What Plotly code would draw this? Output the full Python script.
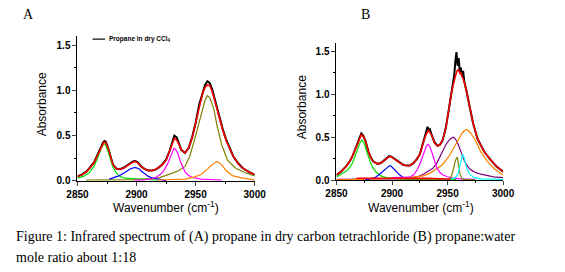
import plotly.graph_objects as go

# ---------------- Panel A: propane in dry CCl4 ----------------
A_fit_x = [2850,2854,2858,2861,2864,2867,2870,2872,2873,2874,2876,2878,2880,2883,2886,2889,2892,2895,2897,2899,
           2901,2904,2907,2910,2913,2916,2919,2922,2925,2928,2930,2932,2934,2936,2938,2941,2944,2947,2950,2953,
           2956,2958,2960,2962,2964,2967,2970,2973,2976,2979,2982,2986,2990,2995,3000]
A_fit_y = [0.047,0.07,0.105,0.15,0.20,0.28,0.37,0.42,0.43,0.42,0.36,0.26,0.18,0.135,0.13,0.14,0.165,0.195,0.21,0.215,
           0.20,0.16,0.13,0.115,0.115,0.125,0.15,0.18,0.23,0.32,0.40,0.47,0.45,0.40,0.34,0.31,0.36,0.47,0.63,0.82,
           0.97,1.03,1.06,1.05,0.99,0.85,0.69,0.56,0.44,0.35,0.27,0.19,0.14,0.10,0.07]
A_exp_y = [0.05,0.072,0.108,0.155,0.205,0.29,0.38,0.43,0.44,0.43,0.36,0.26,0.18,0.135,0.13,0.145,0.17,0.20,0.215,0.22,
           0.205,0.16,0.13,0.115,0.115,0.125,0.15,0.185,0.235,0.33,0.42,0.50,0.48,0.41,0.34,0.31,0.36,0.48,0.64,0.84,
           0.99,1.06,1.10,1.08,1.01,0.86,0.70,0.57,0.45,0.36,0.27,0.195,0.14,0.10,0.07]

A_green_x = [2850,2855,2860,2864,2867,2869,2871,2872.5,2874,2876,2878,2880,2883,2886,2890,2900,2910,2918]
A_green_y = [0.03,0.05,0.09,0.16,0.25,0.33,0.39,0.41,0.39,0.32,0.23,0.15,0.085,0.05,0.03,0.02,0.015,0.01]
A_blue_x = [2877,2881,2885,2889,2892,2895,2898.7,2902,2904,2907,2910,2914,2919,2925]
A_blue_y = [0.02,0.035,0.055,0.085,0.11,0.135,0.15,0.135,0.11,0.08,0.05,0.03,0.015,0.005]
A_magenta_x = [2898,2905,2912,2916,2920,2923,2926,2928,2930,2931.7,2933,2935,2937,2939,2941,2944,2948,2955,2962,2972]
A_magenta_y = [0.01,0.01,0.02,0.035,0.07,0.11,0.18,0.25,0.32,0.36,0.35,0.30,0.22,0.15,0.10,0.06,0.035,0.02,0.015,0.01]
A_olive_x = [2857,2870,2885,2900,2912,2919.5,2927,2935,2941,2945,2949,2952,2955,2958,2960,2962,2965.5,2968,2972,2977,2984,2992,3000]
A_olive_y = [0.01,0.01,0.01,0.015,0.025,0.036,0.07,0.11,0.16,0.27,0.45,0.60,0.75,0.89,0.94,0.92,0.79,0.62,0.40,0.23,0.14,0.09,0.055]
A_orange_x = [2918,2930,2941,2948,2954.6,2960,2964,2968.2,2972,2976,2981.7,2990,3000]
A_orange_y = [0.01,0.012,0.02,0.04,0.07,0.13,0.18,0.215,0.18,0.11,0.055,0.03,0.012]

# ---------------- Panel B: propane:water 1:18 ----------------
B_fit_x = [2850,2854,2858.6,2862,2864.4,2866.5,2868.7,2871,2872.4,2874,2876,2878.8,2881,2883,2887,2890,2893,2895,2897.4,2899.5,
           2902,2905,2907.5,2910,2913,2916,2919,2922,2925,2928,2930,2932.5,2934,2935.5,2938.3,2941,2943,2945.4,2948.3,2951.2,
           2954,2956.9,2958.5,2959.8,2961,2962,2963,2965,2967,2969.8,2972.8,2977,2983,2988.5,2994,3000]
B_fit_y = [0.06,0.10,0.16,0.22,0.28,0.34,0.41,0.49,0.53,0.51,0.46,0.33,0.26,0.22,0.19,0.20,0.23,0.255,0.275,0.27,
           0.245,0.22,0.20,0.18,0.17,0.17,0.195,0.24,0.30,0.43,0.51,0.58,0.56,0.53,0.43,0.40,0.41,0.46,0.60,0.83,
           1.05,1.20,1.27,1.29,1.24,1.25,1.22,1.14,1.04,0.86,0.67,0.48,0.33,0.24,0.16,0.10]
B_exp_x = [2850,2854,2858.6,2862,2864.4,2866.5,2868.7,2871,2872.4,2874,2876,2878.8,2881,2883,2887,2890,2893,2895,2897.4,2899.5,
           2902,2905,2907.5,2910,2913,2916,2919,2922,2925,2928,2930,2931,2932,2933,2934,2935,2936,2938.3,2941,2943,
           2945.4,2948.3,2951.2,2953,2954,2955,2956,2957,2958,2959,2960,2961,2962,2963,2964,2965,2966,2967,2969.8,2972.8,
           2977,2983,2988.5,2994,3000]
B_exp_y = [0.06,0.10,0.16,0.22,0.28,0.34,0.42,0.50,0.545,0.52,0.46,0.33,0.26,0.22,0.19,0.20,0.235,0.26,0.28,0.275,
           0.25,0.22,0.20,0.18,0.17,0.17,0.195,0.24,0.30,0.43,0.53,0.57,0.62,0.58,0.60,0.55,0.52,0.44,0.40,0.41,
           0.46,0.60,0.83,0.97,1.08,1.13,1.22,1.38,1.49,1.33,1.42,1.26,1.31,1.20,1.27,1.15,1.10,1.04,0.86,0.67,
           0.48,0.33,0.24,0.16,0.10]

B_green_x = [2850,2854,2858.6,2862,2864.4,2866.5,2868.7,2871,2873,2875,2877,2879,2881,2883,2886,2890,2895,2905,2920,2940,2958]
B_green_y = [0.037,0.065,0.105,0.15,0.20,0.27,0.35,0.43,0.466,0.43,0.34,0.25,0.19,0.14,0.09,0.05,0.03,0.02,0.015,0.012,0.01]
B_blue_x = [2876,2881,2884.5,2888,2890.3,2892.5,2894.6,2896,2897.8,2899.5,2901.5,2904.6,2907,2909,2912,2915,2922]
B_blue_y = [0.005,0.015,0.03,0.06,0.086,0.11,0.14,0.16,0.17,0.16,0.13,0.086,0.06,0.04,0.02,0.01,0.005]
B_magenta_x = [2900,2912,2916,2920,2923,2926,2929,2931,2932.5,2934,2936,2938,2940,2943,2946,2950,2955,2962,2975]
B_magenta_y = [0.03,0.03,0.035,0.07,0.13,0.22,0.33,0.40,0.416,0.39,0.32,0.23,0.155,0.09,0.06,0.04,0.025,0.015,0.01]
B_purple_x = [2850,2880,2905,2915,2919.6,2924,2928.2,2932,2936.8,2940,2942.6,2945.5,2948.3,2951,2953.5,2955.5,2957.5,2959.8,
              2962.7,2965,2967,2970,2972.8,2976,2980,2986,2991.4,3000]
B_purple_y = [0.01,0.01,0.015,0.02,0.03,0.045,0.07,0.10,0.14,0.19,0.26,0.33,0.41,0.46,0.49,0.50,0.47,0.41,
              0.30,0.23,0.18,0.13,0.106,0.085,0.07,0.05,0.04,0.03]
B_orange_x = [2850,2870,2890,2905,2915,2922,2928.2,2934,2939.7,2945.4,2951.2,2954,2956.9,2960,2962.7,2965,2967,2969,2971.3,
              2975.6,2979.9,2985.7,2992.8,3000]
B_orange_y = [0.005,0.008,0.012,0.02,0.03,0.04,0.05,0.08,0.125,0.18,0.276,0.34,0.41,0.48,0.54,0.575,0.59,0.575,0.54,
              0.45,0.33,0.22,0.125,0.06]
B_olive_x = [2905,2920,2935,2945,2951.2,2953,2954,2955.5,2957,2958.8,2959.8,2961.2,2962.7,2965,2975]
B_olive_y = [0.005,0.008,0.01,0.01,0.012,0.04,0.07,0.14,0.23,0.27,0.18,0.07,0.02,0.01,0.005]
B_cyan_x = [2945,2952,2956.9,2958.5,2959.8,2961.2,2962.4,2963.5,2964.6,2966,2967.5,2969.8,2974,2980,2990,3000]
B_cyan_y = [0.005,0.01,0.03,0.055,0.09,0.18,0.26,0.30,0.28,0.20,0.13,0.07,0.03,0.015,0.01,0.01]
B_redbase_x = [2868,2933,2953]
B_redbase_y = [0.023,0.023,0.01]

x_ticks = [2850, 2900, 2950, 3000]
y_ticks = [0.0, 0.5, 1.0, 1.5]
legend_label = "Propane in dry CCl<sub>4</sub>"
caption1 = "Figure 1: Infrared spectrum of (A) propane in dry carbon tetrachloride (B) propane:water"
caption2 = "mole ratio about 1:18"

W, H = 565, 272
def px(x): return x / W
def py(y): return (H - y) / H

fig = go.Figure()

def add(x, y, color, width, xa, ya):
    fig.add_trace(go.Scatter(x=x, y=y, mode="lines", line=dict(color=color, width=width),
                             xaxis=xa, yaxis=ya, showlegend=False, hoverinfo="skip"))

GREEN = "#00e000"; BLUE = "#0000ff"; MAG = "#ff00ff"; OLIVE = "#808000"
ORANGE = "#ff8000"; PURPLE = "#800080"; CYAN = "#00ffff"; RED = "#ff0000"

# Panel A
add(A_fit_x, A_exp_y, "black", 2, "x", "y")
add(A_olive_x, A_olive_y, OLIVE, 1.2, "x", "y")
add(A_green_x, A_green_y, GREEN, 1.2, "x", "y")
add(A_blue_x, A_blue_y, BLUE, 1.2, "x", "y")
add(A_magenta_x, A_magenta_y, MAG, 1.2, "x", "y")
add(A_orange_x, A_orange_y, ORANGE, 1.2, "x", "y")
add(A_fit_x, A_fit_y, RED, 1.5, "x", "y")

# Panel B
add(B_exp_x, B_exp_y, "black", 2, "x2", "y2")
add(B_purple_x, B_purple_y, PURPLE, 1.2, "x2", "y2")
add(B_orange_x, B_orange_y, ORANGE, 1.2, "x2", "y2")
add(B_green_x, B_green_y, GREEN, 1.2, "x2", "y2")
add(B_blue_x, B_blue_y, BLUE, 1.2, "x2", "y2")
add(B_magenta_x, B_magenta_y, MAG, 1.2, "x2", "y2")
add(B_olive_x, B_olive_y, OLIVE, 1.2, "x2", "y2")
add(B_cyan_x, B_cyan_y, CYAN, 1.2, "x2", "y2")
add(B_redbase_x, B_redbase_y, RED, 1.5, "x2", "y2")
add(B_fit_x, B_fit_y, RED, 1.5, "x2", "y2")

tickfont = dict(family="Liberation Sans", size=10, color="black", weight="bold")
xcommon = dict(range=[2850, 3000], tickvals=x_ticks, ticks="outside", ticklen=4, tickwidth=1,
               showline=True, linecolor="black", linewidth=1, showgrid=False, zeroline=False,
               tickfont=tickfont, minor=dict(dtick=25, ticks="outside", ticklen=2, tickcolor="black"))
ycommon = dict(range=[0, 1.6], tickvals=y_ticks, tickformat=".1f", ticks="outside", ticklen=4, tickwidth=1,
               showline=True, linecolor="black", linewidth=1, showgrid=False, zeroline=False,
               tickfont=tickfont, minor=dict(dtick=0.25, ticks="outside", ticklen=2, tickcolor="black"))

fig.update_layout(
    width=W, height=H, margin=dict(l=0, r=0, t=0, b=0),
    paper_bgcolor="white", plot_bgcolor="white",
    xaxis=dict(domain=[px(69.3), px(254)], anchor="y", **xcommon),
    yaxis=dict(domain=[py(185), py(36.8)], anchor="x", **ycommon),
    xaxis2=dict(domain=[px(339.3), px(513)], anchor="y2", **xcommon),
    yaxis2=dict(domain=[py(184.3), py(43.5)], anchor="x2", **ycommon),
)

ann = []
serif = dict(family="Liberation Serif", size=14, color="black")
sans_t = dict(family="Liberation Sans", size=12, color="black")
for t, x in (("A", 18), ("B", 370)):
    ann.append(dict(text=t, x=px(x), y=py(15), xref="paper", yref="paper", showarrow=False,
                    xanchor="center", yanchor="middle", font=serif))
titles = [
    dict(text="Absorbance", x=px(32), y=py(107), textangle=-90),
    dict(text="Absorbance", x=px(303), y=py(110), textangle=-90),
    dict(text="Wavenumber (cm<sup>-1</sup>)", x=px(162), y=py(212)),
    dict(text="Wavenumber (cm<sup>-1</sup>)", x=px(427), y=py(212)),
]
for t in titles:
    t.update(xref="paper", yref="paper", showarrow=False, xanchor="center", yanchor="middle", font=sans_t)
    ann.append(t)
ann.append(dict(text=legend_label, x=px(100), y=py(40), xref="paper", yref="paper", showarrow=False,
                xanchor="left", yanchor="middle",
                font=dict(family="Liberation Sans", size=6.5, color="black", weight="bold")))
ann.append(dict(text=caption1, x=px(3), y=py(242), xref="paper", yref="paper", showarrow=False,
                xanchor="left", yanchor="middle", font=serif))
ann.append(dict(text=caption2, x=px(3), y=py(263), xref="paper", yref="paper", showarrow=False,
                xanchor="left", yanchor="middle", font=serif))
fig.update_layout(annotations=ann)
fig.add_shape(type="line", xref="paper", yref="paper", x0=px(85), x1=px(98), y0=py(40), y1=py(40),
              line=dict(color="black", width=1.2))

fig.write_html("out.html", config={"displayModeBar": False},
               post_script="document.body.style.margin='0';document.body.style.overflow='hidden';")
